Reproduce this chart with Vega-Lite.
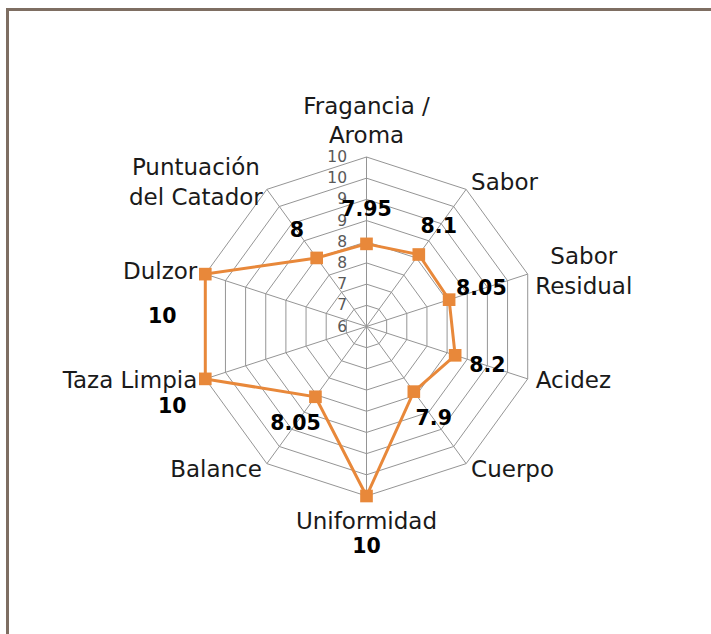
{
  "$schema": "https://vega.github.io/schema/vega-lite/v6.json",
  "width": 703.5,
  "height": 624.5,
  "autosize": {"type": "none"},
  "padding": {"left": 7.5, "top": 9.5, "right": 0, "bottom": 0},
  "background": "white",
  "config": {
    "view": {"stroke": "#7e6e62", "strokeWidth": 3, "strokeDash": [703.5, 1328, 624.5]},
    "font": "DejaVu Sans"
  },
  "datasets": {
    "puntajes": [
      {"atributo": "Fragancia /\nAroma", "puntaje": 7.95},
      {"atributo": "Sabor", "puntaje": 8.1},
      {"atributo": "Sabor\nResidual", "puntaje": 8.05},
      {"atributo": "Acidez", "puntaje": 8.2},
      {"atributo": "Cuerpo", "puntaje": 7.9},
      {"atributo": "Uniformidad", "puntaje": 10},
      {"atributo": "Balance", "puntaje": 8.05},
      {"atributo": "Taza Limpia", "puntaje": 10},
      {"atributo": "Dulzor", "puntaje": 10},
      {"atributo": "Puntuación\ndel Catador", "puntaje": 8}
    ],
    "rejilla": [
      {"nivel": [6, 6.5, 7, 7.5, 8, 8.5, 9, 9.5, 10], "eje": [0, 1, 2, 3, 4, 5, 6, 7, 8, 9]}
    ]
  },
  "data": {"name": "puntajes"},
  "transform": [
    {"window": [{"op": "row_number", "as": "n"}]},
    {"calculate": "datum.n - 1", "as": "i"},
    {"calculate": "sin(datum.i * PI / 5)", "as": "s"},
    {"calculate": "cos(datum.i * PI / 5)", "as": "c"}
  ],
  "encoding": {
    "x": {"field": "px", "type": "quantitative", "scale": {"domain": [-8.472, 8.1298], "nice": false, "zero": false}, "axis": null},
    "y": {"field": "py", "type": "quantitative", "scale": {"domain": [-7.2566, 7.4808], "nice": false, "zero": false}, "axis": null}
  },
  "layer": [
    {
      "data": {"name": "rejilla"},
      "transform": [
        {"flatten": ["nivel"]},
        {"flatten": ["eje"]},
        {"filter": "datum.nivel > 6"},
        {"calculate": "(datum.nivel - 6) * sin(datum.eje * PI / 5)", "as": "px"},
        {"calculate": "(datum.nivel - 6) * cos(datum.eje * PI / 5)", "as": "py"}
      ],
      "mark": {"type": "line", "interpolate": "linear-closed", "color": "#959595", "strokeWidth": 1},
      "encoding": {
        "detail": {"field": "nivel", "type": "nominal"},
        "order": {"field": "eje", "type": "quantitative"}
      }
    },
    {
      "transform": [
        {"calculate": "4 * datum.s", "as": "px"},
        {"calculate": "4 * datum.c", "as": "py"}
      ],
      "mark": {"type": "rule", "color": "#959595", "strokeWidth": 1},
      "encoding": {"x2": {"datum": 0}, "y2": {"datum": 0}}
    },
    {
      "data": {"name": "rejilla"},
      "transform": [
        {"flatten": ["nivel"]},
        {"calculate": "0", "as": "px"},
        {"calculate": "datum.nivel - 6", "as": "py"}
      ],
      "mark": {"type": "text", "align": "right", "baseline": "middle", "dx": -19.5, "fontSize": 15.5, "color": "#595959"},
      "encoding": {"text": {"field": "nivel", "type": "quantitative", "format": ".0f"}}
    },
    {
      "transform": [
        {"calculate": "(datum.puntaje - 6) * datum.s", "as": "px"},
        {"calculate": "(datum.puntaje - 6) * datum.c", "as": "py"}
      ],
      "mark": {"type": "line", "interpolate": "linear-closed", "color": "#E8883A", "strokeWidth": 3},
      "encoding": {"order": {"field": "i", "type": "quantitative"}}
    },
    {
      "transform": [
        {"calculate": "(datum.puntaje - 6) * datum.s", "as": "px"},
        {"calculate": "(datum.puntaje - 6) * datum.c", "as": "py"}
      ],
      "mark": {"type": "point", "shape": "square", "filled": true, "size": 160, "color": "#E8883A", "opacity": 1}
    },
    {
      "transform": [
        {"filter": "datum.puntaje < 10"},
        {"calculate": "(datum.puntaje - 5.2) * datum.s", "as": "px"},
        {"calculate": "(datum.puntaje - 5.2) * datum.c", "as": "py"}
      ],
      "mark": {"type": "text", "align": "center", "baseline": "middle", "fontSize": 20.5, "fontWeight": "bold", "color": "#000000"},
      "encoding": {"text": {"field": "puntaje", "type": "nominal"}}
    },
    {
      "transform": [
        {"filter": "datum.i == 5"},
        {"calculate": "5.2 * datum.s", "as": "px"},
        {"calculate": "5.2 * datum.c", "as": "py"}
      ],
      "mark": {"type": "text", "align": "center", "baseline": "middle", "fontSize": 20.5, "fontWeight": "bold", "color": "#000000"},
      "encoding": {"text": {"field": "puntaje", "type": "nominal"}}
    },
    {
      "transform": [
        {"filter": "datum.i == 8"},
        {"calculate": "(datum.puntaje - 6) * datum.s", "as": "px"},
        {"calculate": "(datum.puntaje - 6) * datum.c", "as": "py"}
      ],
      "mark": {"type": "text", "align": "center", "baseline": "middle", "dx": -43, "dy": 43, "fontSize": 20.5, "fontWeight": "bold", "color": "#000000"},
      "encoding": {"text": {"field": "puntaje", "type": "nominal"}}
    },
    {
      "transform": [
        {"filter": "datum.i == 7"},
        {"calculate": "(datum.puntaje - 6) * datum.s", "as": "px"},
        {"calculate": "(datum.puntaje - 6) * datum.c", "as": "py"}
      ],
      "mark": {"type": "text", "align": "center", "baseline": "middle", "dx": -33, "dy": 28, "fontSize": 20.5, "fontWeight": "bold", "color": "#000000"},
      "encoding": {"text": {"field": "puntaje", "type": "nominal"}}
    },
    {
      "transform": [
        {"filter": "datum.i == 1 || datum.i == 3 || datum.i == 4"},
        {"calculate": "4.2 * datum.s", "as": "px"},
        {"calculate": "4.2 * datum.c", "as": "py"}
      ],
      "mark": {"type": "text", "align": "left", "baseline": "middle", "fontSize": 23, "color": "#1a1a1a", "lineBreak": "\n", "lineHeight": 29.5},
      "encoding": {"text": {"field": "atributo", "type": "nominal"}}
    },
    {
      "transform": [
        {"filter": "datum.i == 2"},
        {"calculate": "4.2 * datum.s", "as": "px"},
        {"calculate": "4.2 * datum.c", "as": "py"}
      ],
      "mark": {"type": "text", "align": "center", "baseline": "middle", "dx": 48, "dy": -14.5, "fontSize": 23, "color": "#1a1a1a", "lineBreak": "\n", "lineHeight": 29.5},
      "encoding": {"text": {"field": "atributo", "type": "nominal"}}
    },
    {
      "transform": [
        {"filter": "datum.i >= 6 && datum.i <= 8"},
        {"calculate": "4.2 * datum.s", "as": "px"},
        {"calculate": "4.2 * datum.c", "as": "py"}
      ],
      "mark": {"type": "text", "align": "right", "baseline": "middle", "fontSize": 23, "color": "#1a1a1a", "lineBreak": "\n", "lineHeight": 29.5},
      "encoding": {"text": {"field": "atributo", "type": "nominal"}}
    },
    {
      "transform": [
        {"filter": "datum.i == 9"},
        {"calculate": "4.2 * datum.s", "as": "px"},
        {"calculate": "4.2 * datum.c", "as": "py"}
      ],
      "mark": {"type": "text", "align": "center", "baseline": "middle", "dx": -66, "dy": -14.5, "fontSize": 23, "color": "#1a1a1a", "lineBreak": "\n", "lineHeight": 29.5},
      "encoding": {"text": {"field": "atributo", "type": "nominal"}}
    },
    {
      "transform": [
        {"filter": "datum.i == 0"},
        {"calculate": "4.2 * datum.s", "as": "px"},
        {"calculate": "4.2 * datum.c", "as": "py"}
      ],
      "mark": {"type": "text", "align": "center", "baseline": "bottom", "dy": -30, "fontSize": 23, "color": "#1a1a1a", "lineBreak": "\n", "lineHeight": 29.5},
      "encoding": {"text": {"field": "atributo", "type": "nominal"}}
    },
    {
      "transform": [
        {"filter": "datum.i == 5"},
        {"calculate": "4.2 * datum.s", "as": "px"},
        {"calculate": "4.2 * datum.c", "as": "py"}
      ],
      "mark": {"type": "text", "align": "center", "baseline": "top", "dy": 7, "fontSize": 23, "color": "#1a1a1a", "lineBreak": "\n", "lineHeight": 29.5},
      "encoding": {"text": {"field": "atributo", "type": "nominal"}}
    }
  ]
}
